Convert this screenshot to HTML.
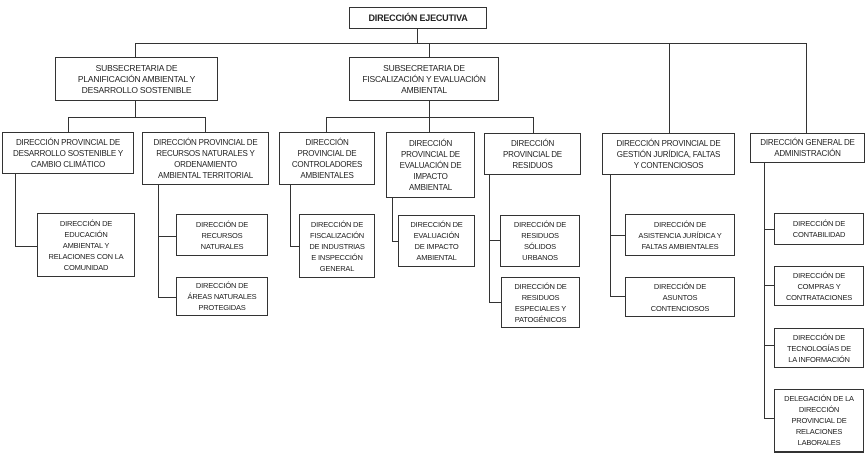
<!DOCTYPE html>
<html><head><meta charset="utf-8"><style>
body{margin:0;width:868px;height:458px;background:#fff;position:relative;overflow:hidden;font-family:"Liberation Sans",sans-serif;}
.b{position:absolute;box-sizing:border-box;border:1.3px solid #333;background:#fff;display:flex;align-items:center;justify-content:center;text-align:center;font-size:8px;line-height:11px;color:#222;letter-spacing:-0.2px;padding:0 2px;}
.h{position:absolute;height:1.4px;background:#333;}
.v{position:absolute;width:1.4px;background:#333;}
</style></head><body>
<!-- lines -->
<div class="v" style="left:417px;top:28px;height:15px"></div>
<div class="h" style="left:135px;top:43px;width:672px"></div>
<div class="v" style="left:135px;top:43px;height:14px"></div>
<div class="v" style="left:429px;top:43px;height:14px"></div>
<div class="v" style="left:669px;top:43px;height:90px"></div>
<div class="v" style="left:806px;top:43px;height:90px"></div>
<div class="v" style="left:135px;top:100px;height:17px"></div>
<div class="h" style="left:68px;top:117px;width:138px"></div>
<div class="v" style="left:68px;top:117px;height:15px"></div>
<div class="v" style="left:205px;top:117px;height:15px"></div>
<div class="v" style="left:429px;top:100px;height:17px"></div>
<div class="h" style="left:326px;top:117px;width:208px"></div>
<div class="v" style="left:326px;top:117px;height:15px"></div>
<div class="v" style="left:429px;top:117px;height:15px"></div>
<div class="v" style="left:533px;top:117px;height:16px"></div>
<!-- child connectors -->
<div class="v" style="left:15px;top:173px;height:73px"></div><div class="h" style="left:15px;top:246px;width:22px"></div>
<div class="v" style="left:158px;top:185px;height:112px"></div><div class="h" style="left:158px;top:236px;width:18px"></div><div class="h" style="left:158px;top:297px;width:18px"></div>
<div class="v" style="left:290px;top:184px;height:62px"></div><div class="h" style="left:290px;top:246px;width:9px"></div>
<div class="v" style="left:392px;top:197px;height:44px"></div><div class="h" style="left:392px;top:241px;width:6px"></div>
<div class="v" style="left:489px;top:174px;height:128px"></div><div class="h" style="left:489px;top:240px;width:11px"></div><div class="h" style="left:489px;top:302px;width:12px"></div>
<div class="v" style="left:610px;top:174px;height:122px"></div><div class="h" style="left:610px;top:235px;width:15px"></div><div class="h" style="left:610px;top:296px;width:15px"></div>
<div class="v" style="left:764px;top:162px;height:256px"></div>
<div class="h" style="left:764px;top:229px;width:10px"></div><div class="h" style="left:764px;top:285px;width:10px"></div><div class="h" style="left:764px;top:345px;width:10px"></div><div class="h" style="left:764px;top:418px;width:10px"></div>
<!-- boxes -->
<div class="b" style="left:349px;top:7px;width:138px;height:22px;font-weight:bold;font-size:9px">DIRECCIÓN EJECUTIVA</div>
<div class="b" style="left:55px;top:57px;width:163px;height:44px;font-size:8.5px">SUBSECRETARIA DE<br>PLANIFICACIÓN AMBIENTAL Y<br>DESARROLLO SOSTENIBLE</div>
<div class="b" style="left:349px;top:57px;width:150px;height:44px;font-size:8.5px">SUBSECRETARIA DE<br>FISCALIZACIÓN Y EVALUACIÓN<br>AMBIENTAL</div>
<div class="b" style="left:2px;top:132px;width:132px;height:42px">DIRECCIÓN PROVINCIAL DE<br>DESARROLLO SOSTENIBLE Y<br>CAMBIO CLIMÁTICO</div>
<div class="b" style="left:142px;top:132px;width:127px;height:53px">DIRECCIÓN PROVINCIAL DE<br>RECURSOS NATURALES Y<br>ORDENAMIENTO<br>AMBIENTAL TERRITORIAL</div>
<div class="b" style="left:279px;top:132px;width:96px;height:53px">DIRECCIÓN<br>PROVINCIAL DE<br>CONTROLADORES<br>AMBIENTALES</div>
<div class="b" style="left:386px;top:132px;width:89px;height:66px">DIRECCIÓN<br>PROVINCIAL DE<br>EVALUACIÓN DE<br>IMPACTO<br>AMBIENTAL</div>
<div class="b" style="left:484px;top:133px;width:97px;height:42px">DIRECCIÓN<br>PROVINCIAL DE<br>RESIDUOS</div>
<div class="b" style="left:602px;top:133px;width:133px;height:42px">DIRECCIÓN PROVINCIAL DE<br>GESTIÓN JURÍDICA, FALTAS<br>Y CONTENCIOSOS</div>
<div class="b" style="left:750px;top:133px;width:115px;height:30px">DIRECCIÓN GENERAL DE<br>ADMINISTRACIÓN</div>
<div class="b" style="left:37px;top:213px;width:98px;height:64px;font-size:7.5px">DIRECCIÓN DE<br>EDUCACIÓN<br>AMBIENTAL Y<br>RELACIONES CON LA<br>COMUNIDAD</div>
<div class="b" style="left:176px;top:214px;width:92px;height:42px;font-size:7.5px">DIRECCIÓN DE<br>RECURSOS<br>NATURALES</div>
<div class="b" style="left:176px;top:277px;width:92px;height:39px;font-size:7.5px">DIRECCIÓN DE<br>ÁREAS NATURALES<br>PROTEGIDAS</div>
<div class="b" style="left:299px;top:214px;width:76px;height:64px;font-size:7.5px">DIRECCIÓN DE<br>FISCALIZACIÓN<br>DE INDUSTRIAS<br>E INSPECCIÓN<br>GENERAL</div>
<div class="b" style="left:398px;top:215px;width:77px;height:52px;font-size:7.5px">DIRECCIÓN DE<br>EVALUACIÓN<br>DE IMPACTO<br>AMBIENTAL</div>
<div class="b" style="left:500px;top:215px;width:80px;height:52px;font-size:7.5px">DIRECCIÓN DE<br>RESIDUOS<br>SÓLIDOS<br>URBANOS</div>
<div class="b" style="left:501px;top:277px;width:79px;height:51px;font-size:7.5px">DIRECCIÓN DE<br>RESIDUOS<br>ESPECIALES Y<br>PATOGÉNICOS</div>
<div class="b" style="left:625px;top:214px;width:110px;height:42px;font-size:7.5px">DIRECCIÓN DE<br>ASISTENCIA JURÍDICA Y<br>FALTAS AMBIENTALES</div>
<div class="b" style="left:625px;top:277px;width:110px;height:40px;font-size:7.5px">DIRECCIÓN DE<br>ASUNTOS<br>CONTENCIOSOS</div>
<div class="b" style="left:774px;top:213px;width:90px;height:32px;font-size:7.5px">DIRECCIÓN DE<br>CONTABILIDAD</div>
<div class="b" style="left:774px;top:266px;width:90px;height:40px;font-size:7.5px">DIRECCIÓN DE<br>COMPRAS Y<br>CONTRATACIONES</div>
<div class="b" style="left:774px;top:328px;width:90px;height:40px;font-size:7.5px">DIRECCIÓN DE<br>TECNOLOGÍAS DE<br>LA INFORMACIÓN</div>
<div class="b" style="left:774px;top:389px;width:90px;height:64px;font-size:7.5px;border-bottom-width:2.5px">DELEGACIÓN DE LA<br>DIRECCIÓN<br>PROVINCIAL DE<br>RELACIONES<br>LABORALES</div>
</body></html>
